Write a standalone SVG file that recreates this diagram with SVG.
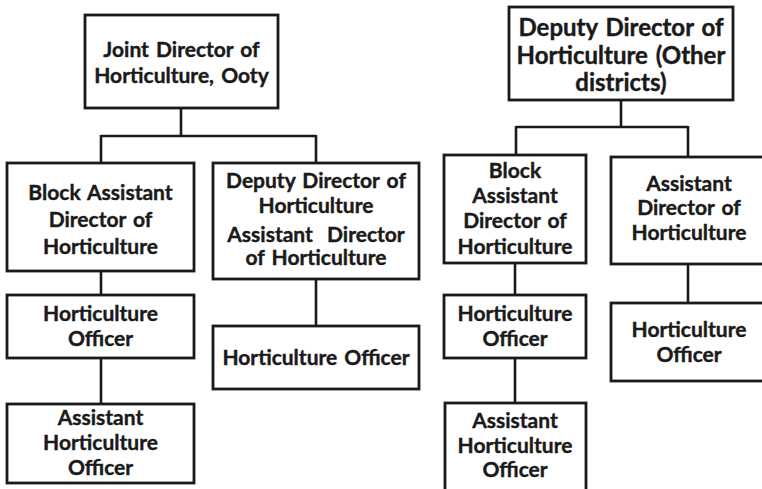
<svg xmlns="http://www.w3.org/2000/svg" width="762" height="489" viewBox="0 0 762 489">
<style>
.box{fill:#fff;stroke:#1a1a1a;stroke-width:2.8}
.con line{stroke:#1a1a1a;stroke-width:2.6}
text{font-family:Lato,"Open Sans","Liberation Sans",sans-serif;font-weight:700;font-size:21px;fill:#1a1a1a;stroke:#1a1a1a;stroke-width:0.4;text-anchor:middle;word-spacing:2px}
.big{font-size:24px}
</style>
<rect width="762" height="489" fill="#fff"/>
<g id="connectors" class="con">
<line x1="181" y1="108" x2="181" y2="136"/>
<line x1="101" y1="136" x2="316" y2="136"/>
<line x1="101" y1="135" x2="101" y2="163"/>
<line x1="316" y1="135" x2="316" y2="163"/>
<line x1="101" y1="271" x2="101" y2="295"/>
<line x1="101" y1="358" x2="101" y2="404"/>
<line x1="316" y1="279" x2="316" y2="326"/>
<line x1="621" y1="100" x2="621" y2="127"/>
<line x1="516" y1="127" x2="688" y2="127"/>
<line x1="516" y1="126" x2="516" y2="155"/>
<line x1="688" y1="126" x2="688" y2="157"/>
<line x1="515" y1="263" x2="515" y2="295"/>
<line x1="515" y1="358" x2="515" y2="403"/>
<line x1="688" y1="264" x2="688" y2="303"/>
</g>
<g id="n-joint">
<rect class="box" x="85" y="15" width="193" height="93"/>
<text x="181.5" y="57">Joint Director of</text>
<text x="181.5" y="83">Horticulture, Ooty</text>
</g>
<g id="n-block-left">
<rect class="box" x="7" y="163" width="187" height="108"/>
<text x="100.5" y="200">Block Assistant</text>
<text x="100.5" y="227">Director of</text>
<text x="100.5" y="254">Horticulture</text>
</g>
<g id="n-ho-left">
<rect class="box" x="7" y="295" width="187" height="63"/>
<text x="100.5" y="321">Horticulture</text>
<text x="100.5" y="346">Officer</text>
</g>
<g id="n-aho-left">
<rect class="box" x="7" y="404" width="187" height="79"/>
<text x="100.5" y="425">Assistant</text>
<text x="100.5" y="450">Horticulture</text>
<text x="100.5" y="475">Officer</text>
</g>
<g id="n-deputy-left">
<rect class="box" x="213" y="163" width="206" height="116"/>
<text x="316" y="188">Deputy Director of</text>
<text x="316" y="213">Horticulture</text>
<text x="316" y="242" xml:space="preserve">Assistant  Director</text>
<text x="316" y="265">of Horticulture</text>
</g>
<g id="n-ho-mid">
<rect class="box" x="213" y="326" width="206" height="63"/>
<text x="316" y="365">Horticulture Officer</text>
</g>
<g id="n-deputy-other">
<rect class="box" x="509" y="7" width="224" height="93"/>
<text class="big" x="621" y="36">Deputy Director of</text>
<text class="big" x="621" y="64">Horticulture (Other</text>
<text class="big" x="621" y="91">districts)</text>
</g>
<g id="n-block-right">
<rect class="box" x="444" y="155" width="142" height="108"/>
<text x="515" y="178">Block</text>
<text x="515" y="203">Assistant</text>
<text x="515" y="228">Director of</text>
<text x="515" y="254">Horticulture</text>
</g>
<g id="n-ho-right1">
<rect class="box" x="444" y="295" width="142" height="63"/>
<text x="515" y="321">Horticulture</text>
<text x="515" y="346">Officer</text>
</g>
<g id="n-aho-right">
<rect class="box" x="445" y="403" width="141" height="95"/>
<text x="515" y="428">Assistant</text>
<text x="515" y="453">Horticulture</text>
<text x="515" y="477">Officer</text>
</g>
<g id="n-asst-right">
<rect class="box" x="611" y="157" width="156" height="107"/>
<text x="689" y="191">Assistant</text>
<text x="689" y="215">Director of</text>
<text x="689" y="240">Horticulture</text>
</g>
<g id="n-ho-right2">
<rect class="box" x="611" y="303" width="156" height="78"/>
<text x="689" y="337">Horticulture</text>
<text x="689" y="362">Officer</text>
</g>
</svg>
